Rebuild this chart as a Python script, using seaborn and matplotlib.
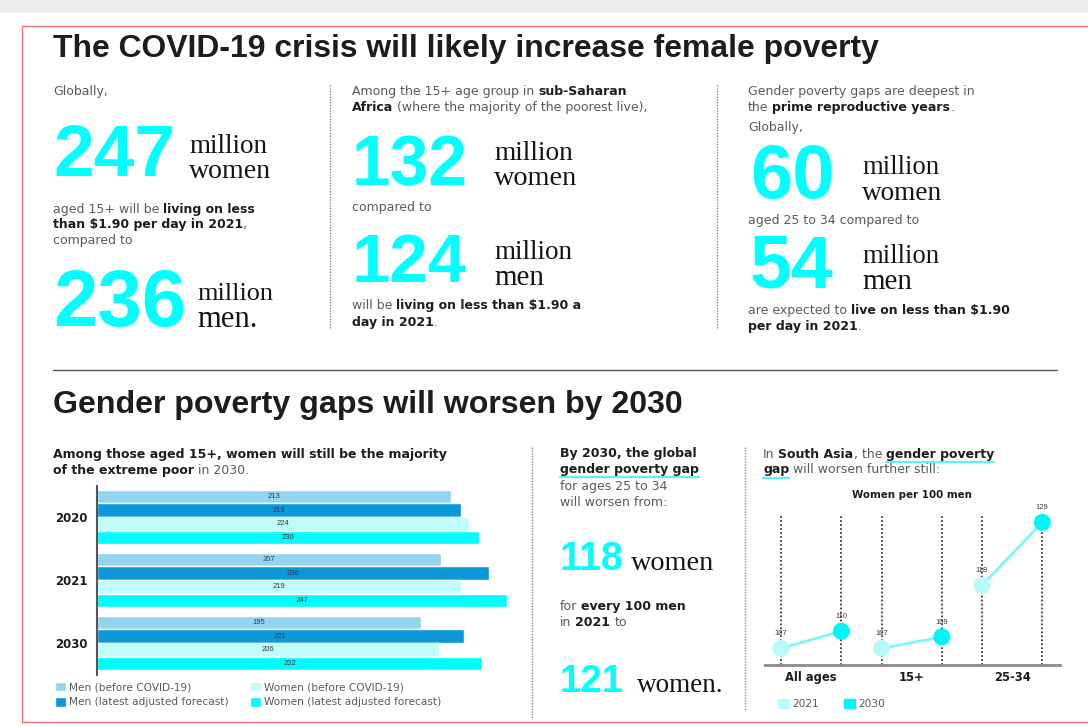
import numpy as np
import pandas as pd
import seaborn as sns
import matplotlib
matplotlib.use("Agg")
import matplotlib.pyplot as plt
from matplotlib import font_manager as fm
from matplotlib.patches import Rectangle, Patch
from matplotlib.lines import Line2D

# ---------------- data ----------------
bar_years = ["2020", "2021", "2030"]
bar_series = ["Men (before COVID-19)", "Men (latest adjusted forecast)",
              "Women (before COVID-19)", "Women (latest adjusted forecast)"]
men_before = [213, 207, 195]
men_latest = [219, 236, 221]
women_before = [224, 219, 206]
women_latest = [230, 247, 232]

sa_groups = ["All ages", "15+", "25-34"]
sa_years = ["2021", "2030"]
sa_2021 = [107, 107, 118]
sa_2030 = [110, 109, 129]

# ---------------- style ----------------
sns.set_theme(style="white")


def has_font(f):
    try:
        fm.findfont(fm.FontProperties(family=f), fallback_to_default=False)
        return True
    except Exception:
        return False


BODY = "DejaVu Sans"
NARROW = "Liberation Sans Narrow" if has_font("Liberation Sans Narrow") else "Liberation Sans"
NUMF = "Liberation Sans"
SERIF = "Liberation Serif"
plt.rcParams["font.family"] = [BODY]

GRAY = "#5a5a5c"
DARK = "#1f1c1d"
CYAN = "#00ffff"
bar_palette = {bar_series[0]: "#93d4f1", bar_series[1]: "#0a98d8",
               bar_series[2]: "#bffcfc", bar_series[3]: "#00fcfc"}
sa_palette = {"2021": "#b9fbfb", "2030": "#00f6f6"}

W, H = 1088, 726
fig = plt.figure(figsize=(W / 100, H / 100), dpi=100)
fig.patch.set_facecolor("white")
R = fig.canvas.get_renderer()


def X(px):
    return px / W


def Y(py):
    return 1 - py / H


def text_w(s, **kw):
    t = fig.text(0, 0, s, **kw)
    w = t.get_window_extent(R).width
    t.remove()
    return w


def rich(x, y, parts, width=None, size=8.5, family=BODY, maxsize=9.0):
    """parts: list of (string, bold). y = visual centre (px)."""
    def layout(sz):
        pos, cx = [], 0.0
        for s, b in parts:
            kw = dict(fontsize=sz, fontweight="bold" if b else "normal", family=family)
            lead = len(s) - len(s.lstrip(" "))
            trail = len(s) - len(s.rstrip(" "))
            core = s.strip(" ")
            sw = text_w("a a", **kw) - text_w("aa", **kw)
            cx += lead * sw
            w = text_w(core, **kw) if core else 0
            pos.append((cx, core, kw, w, b))
            cx += w + trail * sw
        return pos, cx
    if width:
        _, tw = layout(10)
        size = min(10 * width / tw, maxsize)
    pos, _ = layout(size)
    base = y + 0.30 * size * 100 / 72
    out = []
    for cx, core, kw, w, b in pos:
        fig.text(X(x + cx), Y(base), core, va="baseline", ha="left",
                 color=DARK if b else GRAY, **kw)
        out.append((x + cx, x + cx + w, base))
    return out


def fit_text(x, base, s, width, family, weight="bold", color=DARK, maxsize=None):
    w10 = text_w(s, fontsize=10, family=family, fontweight=weight)
    size = 10 * width / w10
    if maxsize:
        size = min(size, maxsize)
    fig.text(X(x), Y(base), s, fontsize=size, family=family, fontweight=weight,
             color=color, va="baseline", ha="left")
    return size


def vdots(x, y0, y1, color="#8a8a8a"):
    fig.add_artist(Line2D([X(x), X(x)], [Y(y0), Y(y1)], ls=(0, (1, 1)),
                          color=color, lw=1.0))


def uline(x0, x1, y):
    fig.add_artist(Line2D([X(x0), X(x1)], [Y(y), Y(y)], color="#5ff2f2", lw=1.6))


SERC = "#151515"

# ---------------- frame ----------------
fig.add_artist(Rectangle((0, Y(13)), 1, 13 / H, color="#ececec", lw=0))
fig.add_artist(Rectangle((X(22), Y(722)), X(1100) - X(22), (722 - 26) / H,
                         fill=False, ec="#f07474", lw=1.0))

# ---------------- top section ----------------
fit_text(53, 57, "The COVID-19 crisis will likely increase female poverty", 827, NARROW)

# column 1
rich(53, 91, [("Globally,", False)], width=66)
fit_text(53, 176, "247", 122, NUMF, color=CYAN)
fit_text(189, 153, "million", 78, SERIF, weight="normal", color=SERC)
fit_text(189, 178, "women", 82, SERIF, weight="normal", color=SERC)
rich(53, 209, [("aged 15+ will be ", False), ("living on less", True)], width=235)
rich(53, 224, [("than $1.90 per day in 2021", True), (",", False)], width=217)
rich(53, 240, [("compared to", False)], width=101)
fit_text(53, 326, "236", 133, NUMF, color=CYAN)
fit_text(197, 300, "million", 76, SERIF, weight="normal", color=SERC)
fit_text(197, 327, "men.", 60, SERIF, weight="normal", color=SERC)

vdots(330, 85, 328)

# column 2
rich(352, 91, [("Among the 15+ age group in ", False), ("sub-Saharan", True)], width=316)
rich(352, 107, [("Africa", True), (" (where the majority of the poorest live),", False)], width=351)
fit_text(352, 185, "132", 116, NUMF, color=CYAN)
fit_text(494, 160, "million", 79, SERIF, weight="normal", color=SERC)
fit_text(494, 185, "women", 83, SERIF, weight="normal", color=SERC)
rich(352, 207, [("compared to", False)], width=100)
fit_text(352, 282, "124", 115, NUMF, color=CYAN)
fit_text(494, 259, "million", 78, SERIF, weight="normal", color=SERC)
fit_text(494, 285, "men", 50, SERIF, weight="normal", color=SERC)
rich(352, 305, [("will be ", False), ("living on less than $1.90 a", True)], width=263)
rich(352, 322, [("day in 2021", True), (".", False)], width=93)

vdots(717, 85, 328)

# column 3
rich(748, 91, [("Gender poverty gaps are deepest in", False)], width=282)
rich(748, 107, [("the ", False), ("prime reproductive years", True), (".", False)], width=237)
rich(748, 127, [("Globally,", False)], width=67)
fit_text(750, 198, "60", 85, NUMF, color=CYAN)
fit_text(862, 174, "million", 77, SERIF, weight="normal", color=SERC)
fit_text(862, 200, "women", 80, SERIF, weight="normal", color=SERC)
rich(748, 220, [("aged 25 to 34 compared to", False)], width=215)
fit_text(750, 288, "54", 84, NUMF, color=CYAN)
fit_text(862, 263, "million", 77, SERIF, weight="normal", color=SERC)
fit_text(862, 289, "men", 50, SERIF, weight="normal", color=SERC)
rich(748, 310, [("are expected to ", False), ("live on less than $1.90", True)], width=306)
rich(748, 326, [("per day in 2021", True), (".", False)], width=128)

# separator + second title
fig.add_artist(Line2D([X(53), X(1057)], [Y(370), Y(370)], color="#555555", lw=1.0))
fit_text(53, 413, "Gender poverty gaps will worsen by 2030", 631, NARROW)

# ---------------- bar chart ----------------
bar_df = pd.DataFrame({
    "year": np.repeat(bar_years, 4),
    "series": bar_series * 3,
    "value": [v for quad in zip(men_before, men_latest, women_before, women_latest) for v in quad],
})
rich(53, 454, [("Among those aged 15+, women will still be the majority", True)], width=447)
rich(53, 470, [("of the extreme poor", True), (" in 2030.", False)], width=229)

ax = fig.add_axes([X(97), Y(674.5), X(512) - X(97), (674.5 - 485.5) / H])
sns.barplot(data=bar_df, y="year", x="value", hue="series", hue_order=bar_series,
            order=bar_years, orient="h", palette=bar_palette, width=0.86,
            saturation=1, ax=ax)
handles, labels = ax.get_legend_handles_labels()
if ax.get_legend() is not None:
    ax.get_legend().remove()
for c in ax.containers:
    ax.bar_label(c, label_type="center", fontsize=5.5, color="#3a3a3a", family=NARROW)
ax.set_xlim(0, 250)
ax.set_xlabel("")
ax.set_ylabel("")
ax.set_xticks([])
ax.tick_params(axis="y", length=0, pad=7, labelsize=8.5)
for t in ax.get_yticklabels():
    t.set_fontweight("bold")
    t.set_color(DARK)
for s in ["top", "right", "bottom"]:
    ax.spines[s].set_visible(False)
ax.spines["left"].set_color("#555555")
ax.spines["left"].set_linewidth(1.5)
ax.set_facecolor("none")

fig.legend(handles, labels, ncol=2, loc="upper left", bbox_to_anchor=(X(55), Y(682)),
           frameon=False, fontsize=7.6, handlelength=1.0, handleheight=1.0,
           handletextpad=0.35, labelspacing=0.45, columnspacing=2.0,
           borderpad=0, borderaxespad=0, labelcolor=GRAY)

vdots(532, 447, 718)

# ---------------- middle text ----------------
rich(560, 453, [("By 2030, the global", True)], width=159)
g = rich(560, 469, [("gender poverty gap", True)], width=160)
uline(g[0][0], g[-1][1], g[0][2] + 4)
rich(560, 486, [("for ages 25 to 34", False)], width=133)
rich(560, 502, [("will worsen from:", False)], width=132)
fit_text(560, 570, "118", 64, NUMF, color=CYAN)
fit_text(631, 570, "women", 83, SERIF, weight="normal", color=SERC)
rich(560, 606, [("for ", False), ("every 100 men", True)], width=146)
rich(560, 622, [("in ", False), ("2021", True), (" to", False)], width=79)
fit_text(560, 692, "121", 64, NUMF, color=CYAN)
fit_text(637, 692, "women.", 86, SERIF, weight="normal", color=SERC)

vdots(745, 447, 710)

# ---------------- South Asia chart ----------------
r1 = rich(763, 454, [("In ", False), ("South Asia", True), (", the ", False), ("gender poverty", True)], width=268)
uline(r1[3][0], r1[3][1], r1[3][2] + 4)
r2 = rich(763, 469, [("gap", True), (" will worsen further still:", False)], width=215)
uline(r2[0][0], r2[0][1], r2[0][2] + 5)
fig.text(X(912), Y(495), "Women per 100 men", fontsize=7.4, fontweight="bold",
         color=DARK, ha="center", va="center")

pair_off = 0.6
rows = []
for i, gname in enumerate(sa_groups):
    rows.append({"group": gname, "year": "2021", "value": sa_2021[i], "x": i})
    rows.append({"group": gname, "year": "2030", "value": sa_2030[i], "x": i + pair_off})
sa_df = pd.DataFrame(rows)

axl = fig.add_axes([X(765), Y(665), (1060 - 765) / W, (665 - 508) / H])
axl.set_xlim(-0.16, 2.776)
axl.set_ylim(104.1, 131.5)
axl.vlines(sa_df["x"], 104.1, 130.3, colors="#3a3a3a", lw=1.3, linestyles=(0, (1, 1.2)))
sns.lineplot(data=sa_df, x="x", y="value", units="group", estimator=None,
             color="#7cf6f6", lw=2.0, ax=axl, legend=False, sort=True)
sns.scatterplot(data=sa_df, x="x", y="value", hue="year", palette=sa_palette,
                s=150, linewidth=0, ax=axl, legend=False, zorder=5)
for _, r in sa_df.iterrows():
    axl.annotate(str(r["value"]), (r["x"], r["value"]), xytext=(0, 8),
                 textcoords="offset points", ha="center", va="bottom",
                 fontsize=5.5, color="#3a3a3a", family=NARROW)
axl.set_xticks([i + pair_off / 2 for i in range(len(sa_groups))])
axl.set_xticklabels(sa_groups, fontsize=8.3, fontweight="bold", color=DARK)
axl.tick_params(axis="x", length=0, pad=4)
axl.set_yticks([])
axl.set_xlabel("")
axl.set_ylabel("")
for s in ["top", "right", "left"]:
    axl.spines[s].set_visible(False)
axl.spines["bottom"].set_color("#8c8c8c")
axl.spines["bottom"].set_linewidth(2)
axl.set_facecolor("none")

fig.legend(handles=[Patch(color=sa_palette[y], label=y) for y in sa_years], ncol=2,
           loc="upper left", bbox_to_anchor=(X(778), Y(699)), frameon=False,
           fontsize=7.6, handlelength=1.0, handleheight=1.0, handletextpad=0.35,
           columnspacing=2.4, borderpad=0, borderaxespad=0, labelcolor=GRAY)

fig.savefig("out.png", dpi=100, facecolor="white")
